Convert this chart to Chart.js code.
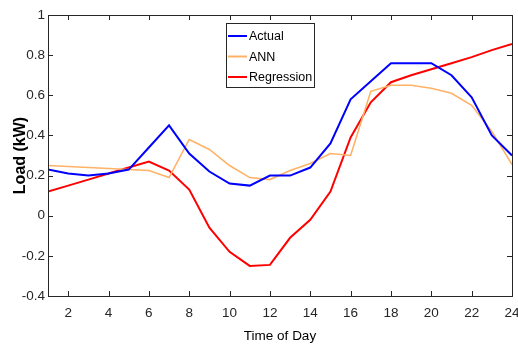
<!DOCTYPE html>
<html>
<head>
<meta charset="utf-8">
<script src="https://cdn.jsdelivr.net/npm/chart.js"></script>
<style>
  body { margin: 0; background: #fff; }
  #wrap { width: 518px; height: 345px; }
</style>
</head>
<body>
<div id="wrap"><canvas id="myChart" width="518" height="345"></canvas></div>
<script>
// hours of the day
var hours = [1, 2, 3, 4, 5, 6, 7, 8, 9, 10, 11, 12, 13, 14, 15, 16, 17, 18, 19, 20, 21, 22, 23, 24];
// load in kW
var actual = [0.23, 0.21, 0.20, 0.21, 0.23, 0.34, 0.45, 0.31, 0.22, 0.16, 0.15, 0.20,
              0.20, 0.24, 0.36, 0.58, 0.67, 0.76, 0.76, 0.76, 0.70, 0.59, 0.40, 0.30];
var ann = [0.25, 0.245, 0.24, 0.235, 0.23, 0.225, 0.19, 0.38, 0.33, 0.25, 0.19, 0.18,
           0.225, 0.26, 0.31, 0.30, 0.62, 0.65, 0.65, 0.635, 0.61, 0.55, 0.42, 0.255];
var regression = [0.12, 0.15, 0.18, 0.21, 0.24, 0.27, 0.225, 0.13, -0.06, -0.18, -0.25, -0.245,
                  -0.11, -0.02, 0.12, 0.39, 0.565, 0.665, 0.70, 0.73, 0.76, 0.79, 0.825, 0.856];
var xTicks = [2, 4, 6, 8, 10, 12, 14, 16, 18, 20, 22, 24];
var yTicks = [-0.4, -0.2, 0, 0.2, 0.4, 0.6, 0.8, 1];

var axisColor = "#262626";
var sans = "'Liberation Sans', Arial, sans-serif";

function pts(vals) {
  return hours.map((h, i) => ({x: h, y: vals[i]}));
}

// box around the plot + inward tick marks (top/bottom/left/right)
var boxPlugin = {
  id: "box",
  afterDraw(chart) {
    const ctx = chart.ctx;
    const a = chart.chartArea;
    const xs = chart.scales.x, ys = chart.scales.y;
    const len = 5;
    ctx.save();
    ctx.strokeStyle = axisColor;
    ctx.lineWidth = 1;
    ctx.strokeRect(Math.round(a.left) + 0.5, Math.round(a.top) + 0.5,
                   Math.round(a.right - a.left), Math.round(a.bottom - a.top));
    ctx.beginPath();
    xTicks.forEach(v => {
      const px = Math.round(xs.getPixelForValue(v)) + 0.5;
      ctx.moveTo(px, a.bottom); ctx.lineTo(px, a.bottom - len);
      ctx.moveTo(px, a.top); ctx.lineTo(px, a.top + len);
    });
    yTicks.forEach(v => {
      const py = Math.round(ys.getPixelForValue(v)) + 0.5;
      ctx.moveTo(a.left, py); ctx.lineTo(a.left + len, py);
      ctx.moveTo(a.right, py); ctx.lineTo(a.right - len, py);
    });
    ctx.stroke();
    ctx.restore();
  }
};

// legend box in the upper middle
var legendPlugin = {
  id: "boxLegend",
  afterDraw(chart) {
    const ctx = chart.ctx;
    const bx = 226, by = 23, bw = 88, bh = 64;
    ctx.save();
    ctx.fillStyle = "#fff";
    ctx.fillRect(bx, by, bw, bh);
    ctx.strokeStyle = axisColor;
    ctx.lineWidth = 1;
    ctx.strokeRect(bx + 0.5, by + 0.5, bw, bh);
    ctx.font = "12.5px " + sans;
    ctx.textBaseline = "middle";
    chart.data.datasets.forEach((ds, i) => {
      const y = by + 13 + i * 20.5;
      ctx.strokeStyle = ds.borderColor;
      ctx.lineWidth = 2;
      ctx.beginPath();
      ctx.moveTo(bx + 2, y); ctx.lineTo(bx + 21, y);
      ctx.stroke();
      ctx.fillStyle = "#000";
      ctx.fillText(ds.label, bx + 23, y + 1);
    });
    ctx.restore();
  }
};

var mychart = new Chart("myChart", {
  type: "line",
  data: {
    datasets: [
      {label: "Actual", data: pts(actual), borderColor: "#0000ff", borderWidth: 2, pointRadius: 0, tension: 0},
      {label: "ANN", data: pts(ann), borderColor: "rgb(255,178,102)", borderWidth: 1.6, pointRadius: 0, tension: 0},
      {label: "Regression", data: pts(regression), borderColor: "#ff0000", borderWidth: 2, pointRadius: 0, tension: 0}
    ]
  },
  options: {
    responsive: false,
    animation: false,
    devicePixelRatio: 1,
    layout: {padding: {top: 15, right: 6, left: 0, bottom: 0}},
    plugins: {legend: {display: false}, tooltip: {enabled: false}},
    scales: {
      x: {
        type: "linear",
        min: 1, max: 24,
        afterBuildTicks: s => { s.ticks = xTicks.map(v => ({value: v})); },
        afterFit: s => { s.height = 49; s.paddingLeft = 0; s.paddingRight = 0; },
        grid: {display: false, drawTicks: false},
        border: {display: false},
        ticks: {color: axisColor, font: {family: sans, size: 13.5}, padding: 9, maxRotation: 0, autoSkip: false},
        title: {display: true, text: "Time of Day", color: "#000", font: {family: sans, size: 13.5}, padding: {top: 0, bottom: 1}}
      },
      y: {
        min: -0.4, max: 1,
        afterBuildTicks: s => { s.ticks = yTicks.map(v => ({value: v})); },
        afterFit: s => { s.width = 48; s.paddingTop = 0; s.paddingBottom = 0; },
        grid: {display: false, drawTicks: false},
        border: {display: false},
        ticks: {color: axisColor, font: {family: sans, size: 13.5}, padding: 3,
                callback: v => String(Math.round(v * 10) / 10)},
        title: {display: true, text: "Load (kW)", color: "#000", font: {family: sans, size: 16, weight: "bold"}, padding: {top: 11, bottom: 0}}
      }
    }
  },
  plugins: [boxPlugin, legendPlugin]
});
</script>
</body>
</html>
